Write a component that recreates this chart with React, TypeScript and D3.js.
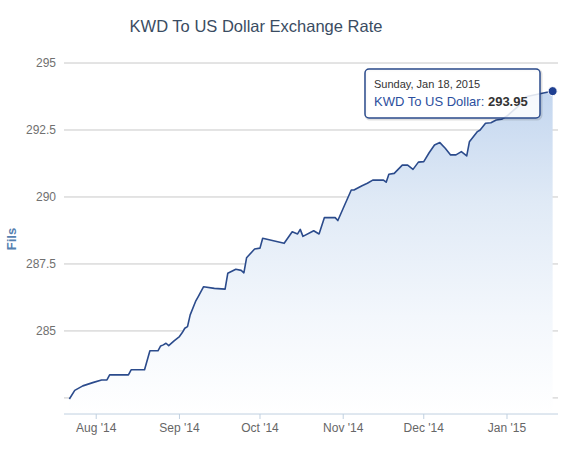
import React from "react";
import * as d3 from "d3";

// daily KWD -> USD rate, in fils
const dates = [
  "2014-07-22", "2014-07-24", "2014-07-27", "2014-07-31", "2014-08-03", "2014-08-05",
  "2014-08-06", "2014-08-13", "2014-08-14", "2014-08-19", "2014-08-21", "2014-08-24",
  "2014-08-25", "2014-08-26", "2014-08-27", "2014-08-28", "2014-08-30", "2014-09-01",
  "2014-09-02", "2014-09-03", "2014-09-04", "2014-09-05", "2014-09-07", "2014-09-08",
  "2014-09-10", "2014-09-14", "2014-09-18", "2014-09-19", "2014-09-22", "2014-09-24",
  "2014-09-25", "2014-09-26", "2014-09-29", "2014-10-01", "2014-10-02", "2014-10-10",
  "2014-10-13", "2014-10-15", "2014-10-16", "2014-10-17", "2014-10-21", "2014-10-23",
  "2014-10-25", "2014-10-29", "2014-10-30", "2014-11-01", "2014-11-04", "2014-11-05",
  "2014-11-08", "2014-11-10", "2014-11-12", "2014-11-16", "2014-11-17", "2014-11-18",
  "2014-11-20", "2014-11-23", "2014-11-25", "2014-11-27", "2014-11-29", "2014-12-01",
  "2014-12-03", "2014-12-05", "2014-12-07", "2014-12-09", "2014-12-11", "2014-12-13",
  "2014-12-15", "2014-12-17", "2014-12-18", "2014-12-21", "2014-12-22", "2014-12-24",
  "2014-12-26", "2014-12-28", "2014-12-30", "2015-01-01", "2015-01-05", "2015-01-08",
  "2015-01-15", "2015-01-18",
];

const rates = [
  282.46, 282.78, 282.95, 283.08, 283.17, 283.17,
  283.36, 283.36, 283.55, 283.55, 284.26, 284.26,
  284.44, 284.48, 284.54, 284.45, 284.63, 284.79,
  284.93, 285.1, 285.16, 285.6, 286.1, 286.28,
  286.65, 286.59, 286.56, 287.15, 287.3, 287.26,
  287.17, 287.73, 288.06, 288.09, 288.46, 288.27,
  288.7, 288.62, 288.79, 288.53, 288.74, 288.62,
  289.23, 289.23, 289.12, 289.58, 290.26, 290.26,
  290.42, 290.51, 290.63, 290.63, 290.55, 290.85,
  290.88, 291.19, 291.19, 291.03, 291.3, 291.32,
  291.65, 291.94, 292.03, 291.82, 291.57, 291.57,
  291.69, 291.53, 292.06, 292.44, 292.5, 292.75,
  292.77, 292.87, 292.9, 293.02, 293.37, 293.74,
  293.89, 293.95,
];

const yTicks = [282.5, 285, 287.5, 290, 292.5, 295];
const monthTicks = ["2014-08-01", "2014-09-01", "2014-10-01", "2014-11-01", "2014-12-01", "2015-01-01"];

const title = "KWD To US Dollar Exchange Rate";
const seriesName = "KWD To US Dollar";
const yTitle = "Fils";

const W = 572;
const H = 450;
const left = 64;
const right = 558;
const top = 63;
const bottom = 414;
const font = "'Liberation Sans', Arial, Helvetica, sans-serif";

const parse = d3.timeParse("%Y-%m-%d");

export default function App() {
  const data = dates.map((d, i) => ({ date: parse(d) as Date, value: rates[i] }));

  const x = d3
    .scaleTime()
    .domain([parse("2014-07-20") as Date, parse("2015-01-20") as Date])
    .range([left, right]);
  const y = d3.scaleLinear().domain([281.9, 295]).range([bottom, top]);

  const line = d3
    .line<{ date: Date; value: number }>()
    .x((d) => x(d.date))
    .y((d) => y(d.value));
  const area = d3
    .area<{ date: Date; value: number }>()
    .x((d) => x(d.date))
    .y0(bottom)
    .y1((d) => y(d.value));

  const last = data[data.length - 1];
  const fmtMonth = d3.timeFormat("%b '%y");
  const fmtDay = d3.timeFormat("%A, %b %-d, %Y");

  // tooltip box
  const tipX = 365;
  const tipY = 69;
  const tipW = 175;
  const tipH = 49;

  return (
    <svg
      width={W}
      height={H}
      style={{ position: "absolute", left: 0, top: 0, background: "#fff" }}
      fontFamily={font}
    >
      <defs>
        <linearGradient id="fillGrad" gradientUnits="userSpaceOnUse" x1="0" y1={y(294)} x2="0" y2={bottom}>
          <stop offset="0" stopColor="#c3d6ef" />
          <stop offset="0.35" stopColor="#e0eaf6" />
          <stop offset="0.7" stopColor="#f3f7fc" />
          <stop offset="1" stopColor="#ffffff" />
        </linearGradient>
      </defs>

      <text x={256} y={32} textAnchor="middle" fontSize={16.5} fill="#3a4c62">
        {title}
      </text>

      {yTicks.map((t) => (
        <g key={t}>
          <line x1={left} x2={right} y1={y(t)} y2={y(t)} stroke="#c8c8c8" strokeWidth={1} />
          {t !== yTicks[0] && (
            <text x={56} y={y(t) + 4} textAnchor="end" fontSize={12} fill="#707070">
              {t}
            </text>
          )}
        </g>
      ))}

      <text
        transform={`translate(16, 239) rotate(-90)`}
        textAnchor="middle"
        fontSize={13}
        fontWeight="bold"
        fill="#5580b0"
      >
        {yTitle}
      </text>

      <path d={area(data) ?? ""} fill="url(#fillGrad)" />
      <path d={line(data) ?? ""} fill="none" stroke="#2b4b8c" strokeWidth={1.6} strokeLinejoin="round" />

      <line x1={left} x2={right} y1={bottom} y2={bottom} stroke="#c0d0e0" strokeWidth={1} />
      {monthTicks.map((m) => {
        const d = parse(m) as Date;
        return (
          <g key={m}>
            <line x1={x(d)} x2={x(d)} y1={bottom} y2={bottom + 5} stroke="#c0d0e0" />
            <text x={x(d)} y={432} textAnchor="middle" fontSize={12} fill="#666">
              {fmtMonth(d)}
            </text>
          </g>
        );
      })}

      <circle cx={x(last.date)} cy={y(last.value)} r={4.5} fill="#1f3f91" stroke="#fff" strokeWidth={1} />

      <rect
        x={tipX + 1}
        y={tipY + 1}
        width={tipW}
        height={tipH}
        rx={4}
        fill="none"
        stroke="#000"
        strokeOpacity={0.12}
        strokeWidth={3}
      />
      <rect
        x={tipX}
        y={tipY}
        width={tipW}
        height={tipH}
        rx={4}
        fill="#fff"
        fillOpacity={0.85}
        stroke="#2b4b8c"
        strokeWidth={1.5}
      />
      <text x={tipX + 9} y={tipY + 19} fontSize={11} fill="#333">
        {fmtDay(last.date)}
      </text>
      <text x={tipX + 9} y={tipY + 37} fontSize={13}>
        <tspan fill="#2c4f9e">{seriesName}: </tspan>
        <tspan fill="#333" fontWeight="bold">
          {last.value.toFixed(2)}
        </tspan>
      </text>
    </svg>
  );
}
